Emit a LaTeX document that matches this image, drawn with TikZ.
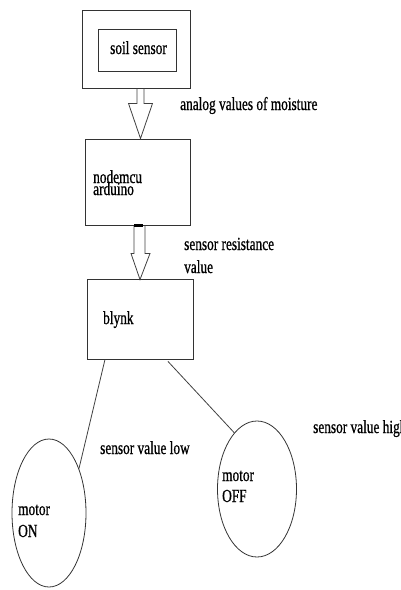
\documentclass[tikz,border=0pt]{standalone}
\usepackage{fontspec}
\setmainfont{Liberation Serif}[FakeStretch=0.72,FakeBold=0.8]
\usetikzlibrary{calc,shapes.geometric}
\begin{document}
\begin{tikzpicture}[x=1pt,y=-1pt,
  box/.style={draw=black!80,line width=0.9pt,rectangle,inner sep=0pt},
  oval/.style={draw=black!80,line width=0.8pt,ellipse,inner sep=0pt},
  lbl/.style={anchor=base west,inner sep=0pt,font=\fontsize{18.5}{22}\selectfont,text=black},
  conn/.style={draw=black!75,line width=0.8pt},
  blk/.style={draw=black!75,line width=0.8pt,line join=miter}]
\useasboundingbox (0,0) rectangle (401,590);
% boxes
\node[box,minimum width=108pt,minimum height=78pt] (soil) at (136,49) {};
\node[box,minimum width=78pt,minimum height=42pt] (soilin) at (137,50) {};
\node[box,minimum width=105pt,minimum height=86pt] (mcu) at (137.5,182) {};
\node[box,minimum width=106pt,minimum height=80pt] (blynk) at (140,319) {};
\node[oval,minimum width=74pt,minimum height=148pt] (on) at (49,513) {};
\node[oval,minimum width=79pt,minimum height=136pt] (off) at (257,489) {};
% texts
\node[lbl] (t1) at (110,54) {soil sensor};
\node[lbl] (t2) at (180,110) {analog values of moisture};
\node[lbl] (t3) at (93,183) {nodemcu};
\node[lbl] (t4) at (93,195) {arduino};
\node[lbl] (t5) at (184,250) {sensor resistance};
\node[lbl] (t6) at (184,273) {value};
\node[lbl] (t7) at (103,324) {blynk};
\node[lbl] (t8) at (313,433) {sensor value high};
\node[lbl] (t9) at (100,454) {sensor value low};
\node[lbl] (t10) at (222,481) {motor};
\node[lbl] (t11) at (222,502) {OFF};
\node[lbl] (t12) at (18,515) {motor};
\node[lbl] (t13) at (18,537) {ON};
% block arrow 1
\draw[blk] ($(soil.south)+(1,0)$) -- ($(soil.south)+(1,15)$) -- ($(soil.south)+(-7.5,15)$)
  -- ($(mcu.north)+(3,0)$) -- ($(soil.south)+(16.5,15)$) -- ($(soil.south)+(8,15)$) -- ($(soil.south)+(8,0)$);
% block arrow 2
\draw[blk] ($(mcu.south)+(-3.5,0)$) -- ($(mcu.south)+(-3.5,28)$) -- ($(mcu.south)+(-6.5,28)$)
  -- ($(blynk.north)+(0,1)$) -- ($(mcu.south)+(12.5,28)$) -- ($(mcu.south)+(7.5,28)$) -- ($(mcu.south)+(7.5,0)$);
\draw[line width=2.5pt] ($(mcu.south)+(-3.5,0)$) -- ($(mcu.south)+(5.5,0)$);
% connectors
\draw[conn] ($(blynk.south)+(-35,0)$) -- (on.56);
\draw[conn] ($(blynk.south)+(28,2)$) -- (off.112);
\end{tikzpicture}
\end{document}
